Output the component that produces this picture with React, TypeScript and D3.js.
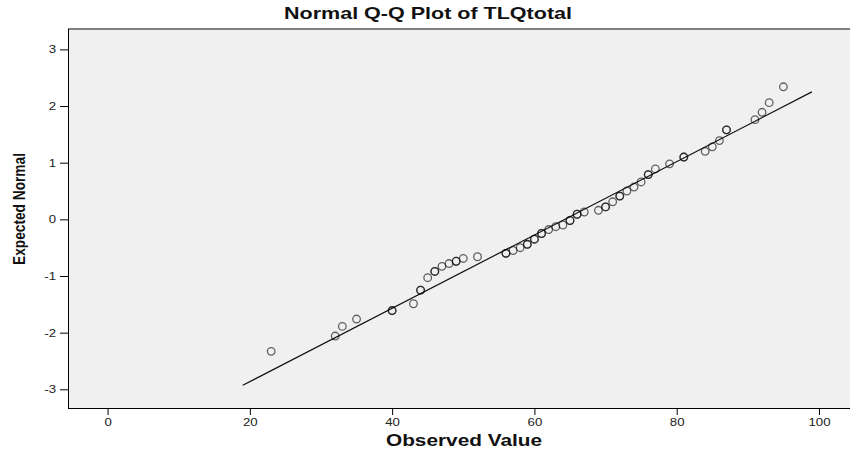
import React, { useRef, useEffect } from 'react';
import * as d3 from 'd3';

// observed TLQtotal values (unique) with their expected normal scores
const observed = [23, 32, 33, 35, 40, 43, 44, 45, 46, 47, 48, 49, 50, 52, 56, 57, 58, 59, 60, 61, 62, 63, 64, 65, 66, 67, 69, 70, 71, 72, 73, 74, 75, 76, 77, 79, 81, 84, 85, 86, 87, 91, 92, 93, 95];
const expected = [-2.33, -2.06, -1.89, -1.76, -1.61, -1.49, -1.25, -1.03, -0.92, -0.83, -0.78, -0.74, -0.69, -0.66, -0.6, -0.55, -0.5, -0.44, -0.35, -0.25, -0.18, -0.13, -0.1, -0.02, 0.09, 0.13, 0.16, 0.22, 0.31, 0.41, 0.5, 0.57, 0.66, 0.79, 0.89, 0.98, 1.1, 1.2, 1.28, 1.39, 1.58, 1.76, 1.89, 2.06, 2.34];
// how many cases share each value (overlapping circles look darker)
const counts = [1, 1, 1, 1, 2, 1, 2, 1, 2, 1, 1, 2, 1, 1, 2, 1, 1, 2, 2, 2, 1, 1, 1, 2, 2, 1, 1, 2, 1, 2, 1, 1, 1, 2, 1, 1, 2, 1, 1, 1, 2, 1, 1, 1, 1];

// reference line endpoints (observed, expected)
const lineX = [19, 99];
const lineY = [-2.93, 2.25];

const xTicks = [0, 20, 40, 60, 80, 100];
const yTicks = [-3, -2, -1, 0, 1, 2, 3];

export default function App() {
  const ref = useRef<HTMLDivElement>(null);

  useEffect(() => {
    const root = d3.select(ref.current);
    root.selectAll('*').remove();

    const W = 850, H = 456;
    const left = 68, right = 851, top = 29, bottom = 408;
    const stretch = 1.2; // the original picture is a bit wider than tall

    const svg = root
      .append('svg')
      .attr('width', W)
      .attr('height', H)
      .style('display', 'block')
      .style('font-family', '"Liberation Sans", Arial, sans-serif');

    const x = d3.scaleLinear().domain([-5.56, 104.5]).range([left, right]);
    const y = d3.scaleLinear().domain([-3.33, 3.36]).range([bottom, top]);

    svg.append('rect').attr('width', W).attr('height', H).attr('fill', '#fff');

    // plot background
    svg
      .append('rect')
      .attr('x', left)
      .attr('y', top)
      .attr('width', right - left)
      .attr('height', bottom - top)
      .attr('fill', '#f0f0f0');

    // frame
    svg.append('line').attr('x1', left).attr('x2', right).attr('y1', top).attr('y2', top)
      .attr('stroke', '#808080').attr('stroke-width', 2);
    svg.append('line').attr('x1', left + 0.5).attr('x2', left + 0.5).attr('y1', top).attr('y2', bottom)
      .attr('stroke', '#000').attr('stroke-width', 1);
    svg.append('line').attr('x1', left).attr('x2', right).attr('y1', bottom + 0.5).attr('y2', bottom + 0.5)
      .attr('stroke', '#000').attr('stroke-width', 1);

    // y axis (plain hyphen for negatives, like the original)
    const yAxis = svg
      .append('g')
      .attr('transform', `translate(${left},0)`)
      .call(d3.axisLeft(y).tickValues(yTicks).tickSize(8).tickFormat(d => String(d)));
    yAxis.select('.domain').remove();
    yAxis.selectAll('line').attr('stroke', '#000');
    yAxis
      .selectAll('text')
      .attr('x', 0)
      .attr('transform', `translate(-12,0) scale(${stretch},1)`)
      .attr('font-size', 11)
      .attr('fill', '#222')
      .attr('font-family', '"Liberation Sans", Arial, sans-serif');

    // x axis
    const xAxis = svg
      .append('g')
      .attr('transform', `translate(0,${bottom})`)
      .call(d3.axisBottom(x).tickValues(xTicks).tickSize(7).tickFormat(d => String(d)));
    xAxis.select('.domain').remove();
    xAxis.selectAll('line').attr('stroke', '#000');
    xAxis
      .selectAll('text')
      .attr('transform', `scale(${stretch},1)`)
      .attr('font-size', 11)
      .attr('fill', '#222')
      .attr('font-family', '"Liberation Sans", Arial, sans-serif');

    // reference line
    const refLine = lineX.map((d, i) => [d, lineY[i]] as [number, number]);
    svg
      .append('path')
      .datum(refLine)
      .attr('d', d3.line<[number, number]>().x(d => x(d[0])).y(d => y(d[1])))
      .attr('fill', 'none')
      .attr('stroke', '#111')
      .attr('stroke-width', 1.2);

    // points (duplicates drawn on top of each other)
    const pts: { o: number; e: number }[] = [];
    observed.forEach((o, i) => {
      for (let k = 0; k < counts[i]; k++) pts.push({ o, e: expected[i] });
    });
    svg
      .append('g')
      .selectAll('circle')
      .data(pts)
      .enter()
      .append('circle')
      .attr('cx', d => x(d.o))
      .attr('cy', d => y(d.e))
      .attr('r', 3.8)
      .attr('fill', 'none')
      .attr('stroke', '#000')
      .attr('stroke-opacity', 0.6)
      .attr('stroke-width', 1.3);

    // titles
    svg
      .append('text')
      .attr('x', 428)
      .attr('y', 19)
      .attr('text-anchor', 'middle')
      .attr('font-size', 17)
      .attr('font-weight', 'bold')
      .attr('fill', '#111')
      .attr('textLength', 288)
      .attr('lengthAdjust', 'spacingAndGlyphs')
      .text('Normal Q-Q Plot of TLQtotal');

    svg
      .append('text')
      .attr('x', 464)
      .attr('y', 446)
      .attr('text-anchor', 'middle')
      .attr('font-size', 16.5)
      .attr('font-weight', 'bold')
      .attr('fill', '#111')
      .attr('textLength', 156)
      .attr('lengthAdjust', 'spacingAndGlyphs')
      .text('Observed Value');

    svg
      .append('text')
      .attr('transform', `translate(25,209) scale(${stretch},1) rotate(-90)`)
      .attr('text-anchor', 'middle')
      .attr('font-size', 13.7)
      .attr('font-weight', 'bold')
      .attr('fill', '#111')
      .text('Expected Normal');
  }, []);

  return <div ref={ref} style={{ position: 'absolute', left: 0, top: 0 }}></div>;
}
